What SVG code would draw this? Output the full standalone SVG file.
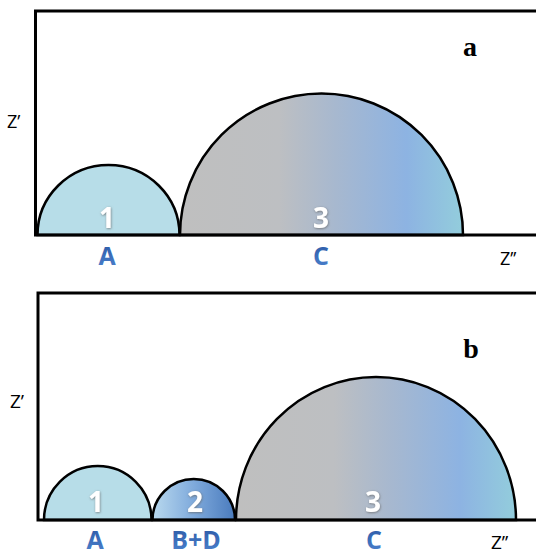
<svg xmlns="http://www.w3.org/2000/svg" width="536" height="555" viewBox="0 0 536 555">
<defs>
<linearGradient id="gBig" x1="0" y1="0" x2="1" y2="0">
<stop offset="0" stop-color="#bfbfbf"/>
<stop offset="0.35" stop-color="#bdbfc2"/>
<stop offset="0.55" stop-color="#a7b8cf"/>
<stop offset="0.8" stop-color="#8db3e2"/>
<stop offset="1" stop-color="#93cddc"/>
</linearGradient>
<linearGradient id="gTwo" x1="0" y1="0" x2="1" y2="0">
<stop offset="0" stop-color="#b9d9ee"/>
<stop offset="0.5" stop-color="#7faadc"/>
<stop offset="1" stop-color="#4a7bbd"/>
</linearGradient>
<linearGradient id="gTxt" x1="0" y1="0" x2="0" y2="1">
<stop offset="0" stop-color="#27539f"/>
<stop offset="1" stop-color="#4f86d2"/>
</linearGradient>
<filter id="sh" x="-30%" y="-30%" width="160%" height="160%">
<feDropShadow dx="0.5" dy="0.8" stdDeviation="0.8" flood-color="#666666" flood-opacity="0.8"/>
</filter>
<style>
.frame{fill:none;stroke:#000;stroke-width:3}
.arc{stroke:#000;stroke-width:2.5}
.num{font-family:"Open Sans","Liberation Sans",sans-serif;font-weight:bold;font-size:28px;fill:#fff;text-anchor:middle;filter:url(#sh)}
.lbl{font-family:"Open Sans","Liberation Sans",sans-serif;font-weight:bold;font-size:25px;fill:url(#gTxt);text-anchor:middle}
.ax{font-family:"Open Sans","Liberation Sans",sans-serif;fill:#000}
.pan{font-family:"Liberation Serif",serif;font-weight:bold;font-size:28px;fill:#000;text-anchor:middle}
</style>
</defs>

<g id="panelA">
<g id="a-semi1"><path class="arc" d="M37.5,235 A71,70 0 0 1 179.5,235 Z" fill="#b7dde8"/><text class="num" x="107" y="228">1</text></g>
<g id="a-semi3"><path class="arc" d="M180,235 A141.5,141.5 0 0 1 463,235 Z" fill="url(#gBig)"/><text class="num" x="321" y="228">3</text></g>
<path id="a-frame" class="frame" d="M540,11 H35.5 V235 H540"/>
<text class="lbl" x="107" y="265">A</text>
<text class="lbl" x="321" y="265">C</text>
<text class="ax" x="7" y="128" font-size="18">Z’</text>
<text class="ax" x="500" y="265" font-size="18">Z’’</text>
<text class="pan" x="470" y="56">a</text>
</g>

<g id="panelB">
<g id="b-semi1"><path class="arc" d="M44,520 A53.75,54 0 0 1 151.5,520 Z" fill="#b7dde8"/><text class="num" x="96" y="512">1</text></g>
<g id="b-semi2"><path class="arc" d="M152.5,520 A41.25,41 0 0 1 235,520 Z" fill="url(#gTwo)"/><text class="num" x="195" y="512">2</text></g>
<g id="b-semi3"><path class="arc" d="M236,520 A140,143 0 0 1 516,520 Z" fill="url(#gBig)"/><text class="num" x="373" y="512">3</text></g>
<path id="b-frame" class="frame" d="M540,293 H38 V520 H540"/>
<text class="lbl" x="95" y="549">A</text>
<text class="lbl" x="196" y="549">B+D</text>
<text class="lbl" x="374" y="549">C</text>
<text class="ax" x="10" y="408" font-size="19">Z’</text>
<text class="ax" x="491" y="549" font-size="19">Z’’</text>
<text class="pan" x="471" y="358">b</text>
</g>
</svg>
